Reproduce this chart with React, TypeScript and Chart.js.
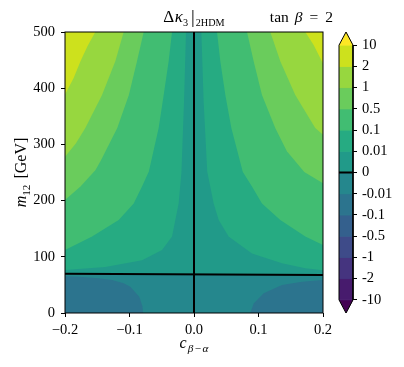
import React, { useEffect, useRef } from 'react';
import { Chart, registerables } from 'chart.js';
Chart.register(...registerables);

// ---- data ----
const xTicks = [-0.2, -0.1, 0, 0.1, 0.2];
const yTicks = [0, 100, 200, 300, 400, 500];
const levelLabels = ['-10', '-2', '-1', '-0.5', '-0.1', '-0.01', '0', '0.01', '0.1', '0.5', '1', '2', '10'];
// colours of the filled intervals, from below -10 up to above 10
const bandColors = ['#440154', '#471b6d', '#45347f', '#3e4b89', '#34608d', '#2c748e', '#25878d', '#219a89', '#26ab82', '#41bd72', '#6acc5c', '#97d73f', '#cde11d', '#fde725'];

// contour lines, points [c_{beta-alpha}, m12]
const zeroH = [[-0.2, 70.0], [0.2, 67.6]];
const zeroV = [[0, 0], [0, 500]];
const negLeft = [[-0.2, 65.5], [-0.179, 64.6], [-0.148, 61.7], [-0.127, 58.7], [-0.109, 52.8], [-0.0987, 46.8], [-0.0848, 29], [-0.080, 12], [-0.079, 0]];
const negRight = [[0.2, 58.7], [0.1674, 55.7], [0.1364, 49.8], [0.108, 35], [0.0925, 17], [0.0873, 0]];
const c001Left = [[-0.0124, 500], [-0.0155, 375], [-0.0195, 250], [-0.0238, 195], [-0.034, 136], [-0.0496, 112], [-0.0806, 94], [-0.1375, 82], [-0.2, 76.5]];
const c01Left = [[-0.0341, 500], [-0.0393, 448], [-0.047, 388], [-0.0548, 329], [-0.070, 252], [-0.0806, 225], [-0.0935, 195], [-0.1168, 165.5], [-0.158, 136], [-0.2, 112]];
const c05Left = [[-0.078, 500], [-0.0884, 448], [-0.101, 388], [-0.119, 329], [-0.145, 270], [-0.153, 254], [-0.176, 225], [-0.2, 201]];
const c1Left = [[-0.109, 500], [-0.122, 448], [-0.1426, 388], [-0.1685, 329], [-0.183, 302], [-0.2, 278]];
const c2Left = [[-0.153, 500], [-0.165, 475], [-0.176, 448], [-0.1866, 418], [-0.2, 389]];
const c001Right = [[0.0114, 500], [0.015, 375], [0.0205, 252], [0.0305, 195], [0.0383, 165.5], [0.0537, 136], [0.0899, 106], [0.1364, 88.4], [0.1726, 79.5], [0.2, 76]];
const c01Right = [[0.0357, 500], [0.0408, 448], [0.0486, 388], [0.0579, 329], [0.0757, 251], [0.0899, 225], [0.1054, 195], [0.1338, 165.5], [0.1726, 136], [0.2, 121]];
const c05Right = [[0.0822, 500], [0.0925, 448], [0.1054, 388], [0.126, 329], [0.144, 288], [0.171, 251], [0.2, 231]];
const c1Right = [[0.1183, 500], [0.1338, 448], [0.157, 388], [0.188, 329], [0.2, 317]];
const c2Right = [[0.1726, 500], [0.1855, 477], [0.2, 444]];

const xMin = -0.2, xMax = 0.2, yMin = 0, yMax = 500;
const cbExtend = 0.62;

type Seg = { t: string; it?: boolean; sub?: boolean; dx?: number; scale?: number };
const titleMain: Seg[] = [{ t: 'Δ' }, { t: 'κ', it: true, dx: 0.5 }, { t: '3', sub: true }, { t: '|', dx: 3, scale: 1.1 }, { t: '2HDM', sub: true, dx: 1 }];
const titleRight: Seg[] = [{ t: 'tan' }, { t: 'β', it: true, dx: 6 }, { t: '=', dx: 7 }, { t: '2', dx: 7 }];
const xLabel: Seg[] = [{ t: 'c', it: true }, { t: 'β', it: true, sub: true, dx: 1 }, { t: '−', sub: true, dx: 1.5 }, { t: 'α', it: true, sub: true, dx: 1.5 }];
const yLabel: Seg[] = [{ t: 'm', it: true }, { t: '12', sub: true }, { t: '[GeV]', dx: 6 }];

const FONT = "'Liberation Serif', 'DejaVu Serif', serif";
const FS = 14.5;

function drawRich(ctx: CanvasRenderingContext2D, segs: Seg[], x: number, y: number, align: string, size: number, subF = 0.7) {
  const subSize = size * subF;
  const sizeFor = (s: Seg) => (s.sub ? subSize : size) * (s.scale || 1);
  const fontFor = (s: Seg) => `${s.it ? 'italic ' : ''}${sizeFor(s)}px ${FONT}`;
  let total = 0;
  const widths = segs.map((s) => {
    ctx.font = fontFor(s);
    const w = ctx.measureText(s.t).width;
    total += w + (s.dx || 0);
    return w;
  });
  let cx = align === 'left' ? x : align === 'center' ? x - total / 2 : x - total;
  ctx.textBaseline = 'alphabetic';
  ctx.textAlign = 'left';
  segs.forEach((s, i) => {
    ctx.font = fontFor(s);
    cx += s.dx || 0;
    const off = s.sub ? size * 0.26 : s.scale ? size * 0.08 : 0;
    ctx.fillText(s.t, cx, y + off);
    cx += widths[i];
  });
}

const toXY = (pts: number[][]) => pts.map(([x, y]) => ({ x, y }));

function poly(pts: number[][], color: string) {
  return {
    type: 'line',
    data: toXY(pts),
    backgroundColor: color,
    borderColor: 'rgba(0,0,0,0)',
    borderWidth: 0,
    fill: 'shape',
    pointRadius: 0,
  };
}

const fmtX = (v: number) => {
  const s = (Math.abs(v) < 1e-9 ? 0 : v).toFixed(1);
  return s.replace('-', '−');
};

export default function App() {
  const mainRef = useRef<HTMLCanvasElement>(null);
  const cbRef = useRef<HTMLCanvasElement>(null);

  useEffect(() => {
    document.body.style.margin = '0';
    const leftCorner = [[xMin, yMax]];
    const rightCorner = [[xMax, yMax]];
    const layers: any[] = [
      poly([[xMin, yMin], [xMax, yMin], [xMax, yMax], [xMin, yMax]], bandColors[6]),
      poly([...negLeft, [xMin, yMin]], bandColors[5]),
      poly([...negRight, [xMax, yMin]], bandColors[5]),
      poly([...zeroH, [xMax, yMax], [xMin, yMax]], bandColors[7]),
      poly([...c001Left, ...leftCorner], bandColors[8]),
      poly([...c01Left, ...leftCorner], bandColors[9]),
      poly([...c05Left, ...leftCorner], bandColors[10]),
      poly([...c1Left, ...leftCorner], bandColors[11]),
      poly([...c2Left, ...leftCorner], bandColors[12]),
      poly([...c001Right, ...rightCorner], bandColors[8]),
      poly([...c01Right, ...rightCorner], bandColors[9]),
      poly([...c05Right, ...rightCorner], bandColors[10]),
      poly([...c1Right, ...rightCorner], bandColors[11]),
      poly([...c2Right, ...rightCorner], bandColors[12]),
    ];
    const lines = [zeroH, zeroV].map((pts) => ({
      type: 'line',
      data: toXY(pts),
      borderColor: '#000',
      borderWidth: 2,
      fill: false,
      pointRadius: 0,
      order: 0,
    }));
    const datasets = [...layers.map((d, i) => ({ ...d, order: layers.length - i })), ...lines];

    const framePlugin = {
      id: 'frame',
      afterDatasetsDraw(chart: any) {
        const { ctx, chartArea: a } = chart;
        ctx.save();
        ctx.strokeStyle = '#000';
        ctx.lineWidth = 1;
        ctx.strokeRect(a.left, a.top, a.right - a.left, a.bottom - a.top);
        ctx.restore();
      },
    };
    const textPlugin = {
      id: 'texts',
      afterDraw(chart: any) {
        const { ctx, chartArea: a } = chart;
        ctx.save();
        ctx.fillStyle = '#000';
        drawRich(ctx, titleMain, (a.left + a.right) / 2, a.top - 10, 'center', 17, 0.6);
        drawRich(ctx, titleRight, a.right + 10, a.top - 10, 'right', 15.5);
        drawRich(ctx, xLabel, (a.left + a.right) / 2, a.bottom + 35, 'center', 16);
        ctx.translate(a.left - 39, (a.top + a.bottom) / 2);
        ctx.rotate(-Math.PI / 2);
        drawRich(ctx, yLabel, 0, 0, 'center', 16);
        ctx.restore();
      },
    };

    const font = { family: FONT, size: FS };
    const main = new Chart(mainRef.current!, {
      type: 'line',
      data: { datasets } as any,
      options: {
        responsive: false,
        animation: false,
        events: [],
        layout: { padding: { left: 0, top: 32, right: 81, bottom: 0 } },
        plugins: { legend: { display: false }, tooltip: { enabled: false }, title: { display: false } },
        scales: {
          x: {
            type: 'linear', min: xMin, max: xMax,
            afterFit: (s: any) => { s.height = 54; },
            afterBuildTicks: (s: any) => { s.ticks = xTicks.map((v) => ({ value: v })); },
            ticks: { callback: (v: any) => fmtX(Number(v)), font, color: '#000', padding: 4, maxRotation: 0, autoSkip: false },
            grid: { drawOnChartArea: false, tickLength: 4, tickColor: '#000', tickWidth: 1 },
            border: { display: false },
          },
          y: {
            type: 'linear', min: yMin, max: yMax,
            afterFit: (s: any) => { s.width = 65; },
            afterBuildTicks: (s: any) => { s.ticks = yTicks.map((v) => ({ value: v })); },
            ticks: { callback: (v: any) => String(v), font, color: '#000', padding: 6, autoSkip: false },
            grid: { drawOnChartArea: false, tickLength: 4, tickColor: '#000', tickWidth: 1 },
            border: { display: false },
          },
        },
      } as any,
      plugins: [framePlugin, textPlugin],
    });

    // colour bar
    const cbData: any[] = [];
    cbData.push({ ...poly([[0, 0], [1, 0], [0.5, -cbExtend]], bandColors[0]), borderColor: bandColors[0], borderWidth: 0.5 });
    levelLabels.slice(0, -1).forEach((_, i) => {
      cbData.push({ ...poly([[0, i], [1, i], [1, i + 1], [0, i + 1]], bandColors[i + 1]), borderColor: bandColors[i + 1], borderWidth: 1 });
    });
    cbData.push({ ...poly([[0, 12], [1, 12], [0.5, 12 + cbExtend]], bandColors[13]), borderColor: bandColors[13], borderWidth: 0.5 });
    const cbLayers = cbData.map((d, i) => ({ ...d, order: cbData.length - i + 2 }));
    cbLayers.push({
      type: 'line',
      data: toXY([[0.5, -cbExtend], [0, 0], [0, 12], [0.5, 12 + cbExtend], [1, 12], [1, 0], [0.5, -cbExtend]]),
      borderColor: '#000', borderWidth: 1, fill: false, pointRadius: 0, order: 1, clip: false,
    });
    cbLayers.push({
      type: 'line',
      data: toXY([[0, 6], [1, 6]]),
      borderColor: '#000', borderWidth: 2, fill: false, pointRadius: 0, order: 0, clip: false,
    });

    const cb = new Chart(cbRef.current!, {
      type: 'line',
      data: { datasets: cbLayers } as any,
      options: {
        responsive: false,
        animation: false,
        events: [],
        layout: { padding: { left: 9, top: 32, right: 0, bottom: 54 } },
        plugins: { legend: { display: false }, tooltip: { enabled: false } },
        scales: {
          x: { type: 'linear', min: 0, max: 1, display: false },
          y: {
            type: 'linear', position: 'right', min: -cbExtend, max: 12 + cbExtend,
            afterFit: (s: any) => { s.width = 51; },
            afterBuildTicks: (s: any) => { s.ticks = levelLabels.map((_, i) => ({ value: i })); },
            ticks: { callback: (v: any) => levelLabels[Math.round(Number(v))], font, color: '#000', padding: 5, autoSkip: false },
            grid: { drawOnChartArea: false, tickLength: 4, tickColor: '#000', tickWidth: 1 },
            border: { display: false },
          },
        },
      } as any,
    });

    return () => {
      main.destroy();
      cb.destroy();
    };
  }, []);

  return (
    <div style={{ position: 'relative', width: 404, height: 367, background: '#fff' }}>
      <canvas ref={mainRef} width={404} height={367} style={{ position: 'absolute', left: 0, top: 0, width: 404, height: 367 }} />
      <canvas ref={cbRef} width={74} height={367} style={{ position: 'absolute', left: 330, top: 0, width: 74, height: 367 }} />
    </div>
  );
}
